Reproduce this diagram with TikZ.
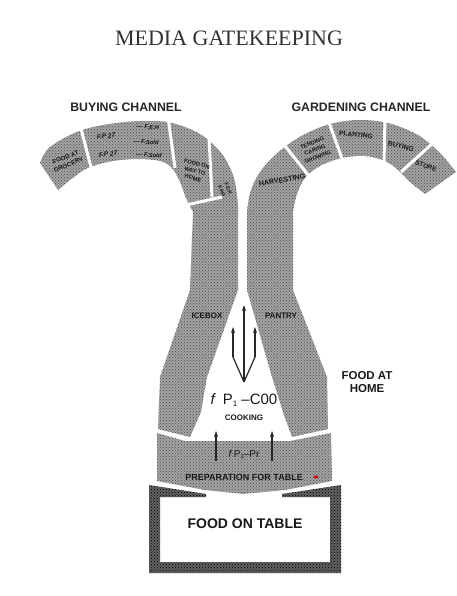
\documentclass[tikz,border=0pt]{standalone}
\usepackage{fontspec}
\setmainfont{Liberation Serif}
\newfontfamily\lab{Liberation Sans}
\usetikzlibrary{patterns,arrows.meta}
\begin{document}
\begin{tikzpicture}[x=1pt,y=-1pt,
  band/.style={fill=black!36, postaction={pattern=crosshatch dots, pattern color=black!70}},
  frame/.style={fill=black!62, postaction={pattern=crosshatch dots, pattern color=black}},
  gap/.style={draw=white, line width=3pt},
  seg/.style={inner sep=0pt, align=center, text=black!90},
  head/.style={inner sep=0pt, font=\lab\bfseries\fontsize{12.3}{14}\selectfont, text=black!85},
  arr/.style={draw=black!85, line width=1.2pt, -{Stealth[length=6pt,width=4pt]}},
  plain/.style={draw=black!85, line width=1.2pt}
]
\useasboundingbox (0,0) rectangle (457,596);

% ---------- title & headings ----------
\node[inner sep=0pt, font=\fontsize{22}{24}\selectfont, text=black!80] (title) at (229,38) {MEDIA GATEKEEPING};
\node[head] (buyhead) at (126,107) {BUYING CHANNEL};
\node[head] (gardhead) at (361,107) {GARDENING CHANNEL};

% ---------- left arm (buying channel + icebox stem) ----------
\fill[band] (40,163) -- plot[smooth,tension=0.55] coordinates {(40,163) (50,147) (82,130) (125,122) (167,122) (200,134) (222,154) (234,178) (238,205)}
  -- (238,290) -- (207,377) -- (201,412) -- (190,437) -- (158,429) -- (160,377) -- (190,290) -- (193,212)
  -- plot[smooth,tension=0.55] coordinates {(193,212) (186,198) (180,182) (172,168) (160,161) (135,159) (108,162) (84,170) (58,190)} -- cycle;

% ---------- right arm (gardening channel + pantry stem) ----------
\fill[band] (247,290) -- (247,212) -- plot[smooth,tension=0.55] coordinates {(247,212) (250,193) (258,175) (270,160) (286,146) (305,134) (330,124) (358,120) (388,123) (418,135) (440,153) (456,172)}
  -- (425,194) -- plot[smooth,tension=0.55] coordinates {(425,194) (410,182) (398,170) (385,161) (365,156) (342,158) (320,166) (305,178) (297,194) (293,212)}
  -- (293,290) -- (327,377) -- (328,429) -- (292,437) -- (284,415) -- (272,377) -- cycle;

% ---------- preparation band ----------
\fill[band] (157,433) -- (185,441) -- (290,441) -- (331,433) -- (332,481) -- (285,490) -- (243,494) -- (205,490) -- (157,481) -- cycle;

% ---------- table frame ----------
\fill[frame] (149,485) -- (206,494) -- (206,497) -- (160,497) -- (160,562) -- (330,562) -- (330,497) -- (282,497) -- (282,494) -- (341,485) -- (341,573) -- (149,573) -- cycle;

% ---------- gaps between channel pieces ----------
\draw[gap] (80,125) -- (92,171);
\draw[gap] (168,117) -- (175,168);
\draw[gap] (209,137) -- (212,197);
\draw[gap] (186,205) -- (222,197);
\draw[gap] (281,141) -- (313,181);
\draw[gap] (327,117) -- (344,164);
\draw[gap] (385,117) -- (384,163);
\draw[gap] (433,143) -- (401,172);

% ---------- channel labels ----------
\node[seg, font=\lab\bfseries\fontsize{6.2}{8}\selectfont, rotate=22] (grocery) at (67,161) {FOOD AT\\GROCERY};
\node[seg, font=\lab\bfseries\itshape\fontsize{6.5}{7}\selectfont, rotate=6] (fpa) at (106,136) {F.P 27};
\node[seg, font=\lab\bfseries\itshape\fontsize{6.5}{7}\selectfont, rotate=6] (fpb) at (108,154) {F.P 27};
\node[seg, font=\lab\bfseries\itshape\fontsize{6}{7}\selectfont, rotate=-4] (feh) at (148,127) {— F.E.H};
\node[seg, font=\lab\bfseries\itshape\fontsize{6}{7}\selectfont, rotate=-4] (fsa) at (146,142) {— F.Sold};
\node[seg, font=\lab\bfseries\itshape\fontsize{6}{7}\selectfont, rotate=-4] (fsb) at (149,155) {— F.Sold};
\node[seg, font=\lab\bfseries\fontsize{5.6}{7.4}\selectfont, rotate=-15] (foodway) at (195,171) {FOOD ON\\WAY TO\\HOME};
\node[seg, font=\lab\bfseries\fontsize{5}{7}\selectfont, rotate=-68] (fer) at (225,190) {F.E.R\\F.P.R};
\node[seg, font=\lab\bfseries\fontsize{7.2}{8}\selectfont, rotate=10] (harvest) at (282,180) {HARVESTING};
\node[seg, font=\lab\bfseries\fontsize{5.6}{7.4}\selectfont, rotate=22] (tending) at (315,150) {TENDING\\CARING\\GROWING};
\node[seg, font=\lab\bfseries\fontsize{6.6}{7}\selectfont, rotate=-6] (planting) at (356,135) {PLANTING};
\node[seg, font=\lab\bfseries\fontsize{6.8}{7}\selectfont, rotate=-14] (buying) at (401,146) {BUYING};
\node[seg, font=\lab\bfseries\fontsize{6.4}{7}\selectfont, rotate=-20] (store) at (426,166) {STORE};

% ---------- stem labels ----------
\node[seg, font=\lab\bfseries\fontsize{8}{9}\selectfont] (icebox) at (207,316) {ICEBOX};
\node[seg, font=\lab\bfseries\fontsize{8}{9}\selectfont] (pantry) at (281,316) {PANTRY};
\node[seg, font=\lab\bfseries\fontsize{11.5}{13.5}\selectfont] (home) at (367,382) {FOOD AT\\HOME};

% ---------- cooking ----------
\coordinate (tp) at (244,382);
\coordinate (tc) at (244,305);
\coordinate (tl1) at (233,357);
\coordinate (tl2) at (233,327);
\coordinate (tr1) at (255,357);
\coordinate (tr2) at (255,327);
\draw[arr] (tp) -- (tc);
\draw[plain] (tp) -- (tl1);
\draw[arr] (tl1) -- (tl2);
\draw[plain] (tp) -- (tr1);
\draw[arr] (tr1) -- (tr2);
\node[seg, font=\lab\fontsize{15}{16}\selectfont] (cookf) at (244,400) {\textit{f}\, P\raisebox{-1.5pt}{\fontsize{8}{8}\selectfont 1} –C00};
\node[seg, font=\lab\bfseries\fontsize{8}{9}\selectfont] (cooking) at (244,418) {COOKING};

% ---------- preparation ----------
\coordinate (pl1) at (216,461);
\coordinate (pl2) at (216,431);
\coordinate (pr1) at (272,461);
\coordinate (pr2) at (272,431);
\draw[arr] (pl1) -- (pl2);
\draw[arr] (pr1) -- (pr2);
\node[seg, font=\lab\fontsize{10}{11}\selectfont] (prepf) at (244,454) {\textit{f}\,P\raisebox{-1pt}{\fontsize{6}{6}\selectfont 1}–Pr};
\node[seg, font=\lab\bfseries\fontsize{9}{10}\selectfont] (prep) at (244,477) {PREPARATION FOR TABLE};
\fill[red!80!black] (316,477) ellipse (2.5pt and 1.5pt);

% ---------- table ----------
\node[seg, font=\lab\bfseries\fontsize{14}{16}\selectfont] (table) at (245,524) {FOOD ON TABLE};
\end{tikzpicture}
\end{document}
